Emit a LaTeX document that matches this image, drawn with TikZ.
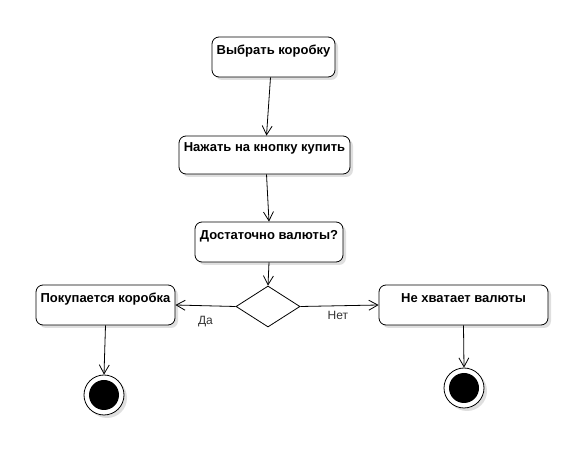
\documentclass[tikz,border=0pt]{standalone}
\usepackage{fontspec}
\setmainfont{Liberation Sans}
\usepackage{tikz}
\usetikzlibrary{shapes.geometric,arrows.meta,shadows}

\tikzset{
	act/.style={draw,rounded corners=7,fill=white,line width=0.8,
		drop shadow={shadow xshift=3pt,shadow yshift=-3pt,fill=black!25,opacity=0.5},
		font=\fontsize{13}{15}\selectfont\bfseries,
		text height=9.5,inner xsep=2,inner ysep=8,text depth=14.5,minimum height=40},
	choice/.style={draw,diamond,fill=white,line width=0.8,inner sep=0,
		minimum width=64,minimum height=41},
	final/.style={draw,circle,fill=white,line width=0.8,minimum size=40,inner sep=0,
		drop shadow={shadow xshift=3pt,shadow yshift=-3pt,fill=black!25,opacity=0.5}},
	flow/.style={line width=0.8,-{Straight Barb[length=9pt,width=10pt,line width=0.8]}},
	guard/.style={font=\fontsize{12}{14}\selectfont,text=black!80}
}

\begin{document}
\begin{tikzpicture}[x=1pt,y=-1pt]
	\useasboundingbox (0,0) rectangle (574,470);
	
	% actions
	\node[act,minimum width=123] (vybor) at (273.5,57) {Выбрать коробку};
	\node[act,minimum width=171,minimum height=38,inner ysep=6,text depth=16.5] (nazhat) at (264.5,155) {Нажать на кнопку купить};
	\node[act,minimum width=148] (valuta) at (269,242) {Достаточно валюты?};
	\node[choice] (reshenie) at (268,306.5) {};
	\node[act,minimum width=139] (pokupka) at (105.5,305) {Покупается коробка};
	\node[act,minimum width=169] (nehvat) at (463.5,305) {Не хватает валюты};
	
	% final states
	\node[final] (konec1) at (104,395) {};
	\fill (konec1) circle (15);
	\node[final] (konec2) at (464,388) {};
	\fill (konec2) circle (15);
	
	% transitions
	\draw[flow] ([xshift=-3]vybor.south) -- ([xshift=2]nazhat.north);
	\draw[flow] ([xshift=2]nazhat.south) -- (valuta.north);
	\draw[flow] (valuta.south) -- (reshenie.north);
	\draw[flow] (reshenie.west) -- node[guard,pos=0.5,below=6.5pt] {Да} (pokupka.east);
	\draw[flow] (reshenie.east) -- node[guard,pos=0.48,below=2pt] {Нет} (nehvat.west);
	\draw[flow] (pokupka.south) -- (konec1.north);
	\draw[flow] (nehvat.south) -- (konec2.north);
\end{tikzpicture}
\end{document}
